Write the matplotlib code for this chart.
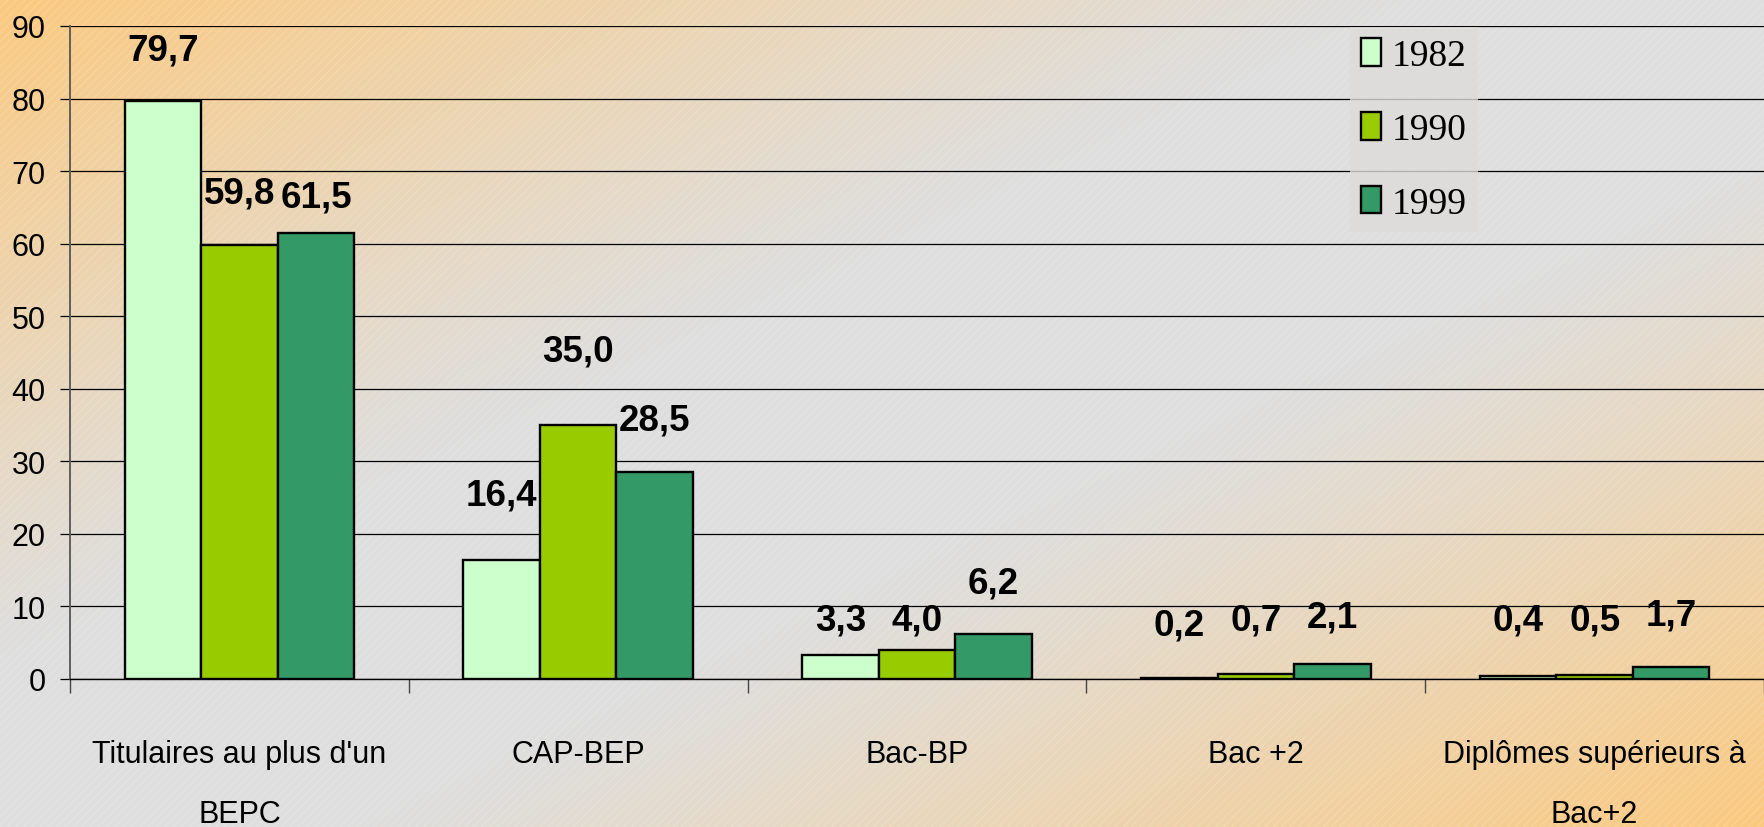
import numpy as np
import matplotlib.pyplot as plt
from matplotlib.patches import Rectangle

categories = ["Titulaires au plus d'un\nBEPC", "CAP-BEP", "Bac-BP", "Bac +2",
              "Diplômes supérieurs à\nBac+2"]
years = ["1982", "1990", "1999"]
v1982 = [79.7, 16.4, 3.3, 0.2, 0.4]
v1990 = [59.8, 35.0, 4.0, 0.7, 0.5]
v1999 = [61.5, 28.5, 6.2, 2.1, 1.7]
colors = ['#ccffcc', '#99cc00', '#339966']
yticks = [0, 10, 20, 30, 40, 50, 60, 70, 80, 90]

# label lift above each bar (data units), as placed in the original
label_lift = [[7.0, 7.2, 4.9], [8.9, 10.2, 7.2], [4.8, 4.1, 7.1],
              [7.2, 7.5, 6.4], [7.8, 7.7, 7.1]]

SANS = ['Liberation Sans Narrow', 'Liberation Sans', 'DejaVu Sans']
SERIF = ['Liberation Serif', 'DejaVu Serif']

W, H = 1764, 828
fig = plt.figure(figsize=(W / 100, H / 100), dpi=100)

# background gradient: orange corners, grey diagonal band
bg = fig.add_axes([0, 0, 1, 1], zorder=0)
xx, yy = np.meshgrid(np.linspace(0, 1, 400), np.linspace(0, 1, 200))
d = np.abs((xx + yy) / 2 - 0.5) * 2
f = np.clip((d - 0.2) / 0.8, 0, 1) ** 1.1
grey = np.array([0.871, 0.871, 0.871])
orange = np.array([0.985, 0.79, 0.50])
img = grey + (orange - grey) * f[..., None]
bg.imshow(img, extent=[0, 1, 0, 1], aspect='auto', origin='upper')
bg.add_patch(Rectangle((0, 0), 1, 1, facecolor='none', edgecolor=(1, 1, 1, 0.14),
                       hatch='////', linewidth=0))
bg.set_xlim(0, 1)
bg.set_ylim(0, 1)
bg.axis('off')

ax = fig.add_axes([70 / W, 1 - 680 / H, 1 - 70 / W, (680 - 27) / H], zorder=1)
ax.patch.set_alpha(0)

x = np.arange(len(categories))
bw = 0.226
series = [v1982, v1990, v1999]
for i, (vals, c, yr) in enumerate(zip(series, colors, years)):
    pos = x + (i - 1) * bw
    ax.bar(pos, vals, bw, color=c, edgecolor='black', linewidth=1.7, label=yr, zorder=3)
    for j, v in enumerate(vals):
        ax.text(pos[j], v + label_lift[j][i], f"{v:.1f}".replace('.', ','),
                ha='center', va='center', fontsize=26.5, fontweight='bold',
                family=SANS, zorder=4)

ax.set_xlim(-0.5, len(categories) - 0.5)
ax.set_ylim(0, 90)
ax.set_yticks(yticks)
ax.set_yticklabels([str(t) for t in yticks], family=SANS, fontsize=22)
ax.yaxis.grid(True, color='black', linewidth=0.9, zorder=0)
ax.set_axisbelow(True)
ax.tick_params(axis='y', length=7.5, width=0.9, color='black', pad=10)

ax.set_xticks(x)
ax.set_xticklabels(categories, family=SANS, fontsize=22)
for lbl in ax.get_xticklabels():
    lbl.set_linespacing(2.3)
ax.set_xticks(np.arange(-0.5, len(categories)), minor=True)
ax.tick_params(axis='x', which='major', length=0, pad=43)
ax.tick_params(axis='x', which='minor', length=10, width=1.0, color='#444444')

for s in ['top', 'right']:
    ax.spines[s].set_visible(False)
ax.spines['left'].set_color('#555555')
ax.spines['left'].set_linewidth(1.3)
ax.spines['bottom'].set_color('black')
ax.spines['bottom'].set_linewidth(1.0)

leg = ax.legend(loc='upper left', bbox_to_anchor=(1350 / W, 1 - 28 / H),
                bbox_transform=fig.transFigure, prop={'family': SERIF, 'size': 27},
                frameon=True, fancybox=False, handlelength=0.52, handleheight=0.75,
                handletextpad=0.3, labelspacing=1.04, borderpad=0.3,
                borderaxespad=0)
leg.get_frame().set_facecolor('#dedcd9')
leg.get_frame().set_edgecolor('none')
leg.set_zorder(5)

fig.savefig('out.png', dpi=100)
